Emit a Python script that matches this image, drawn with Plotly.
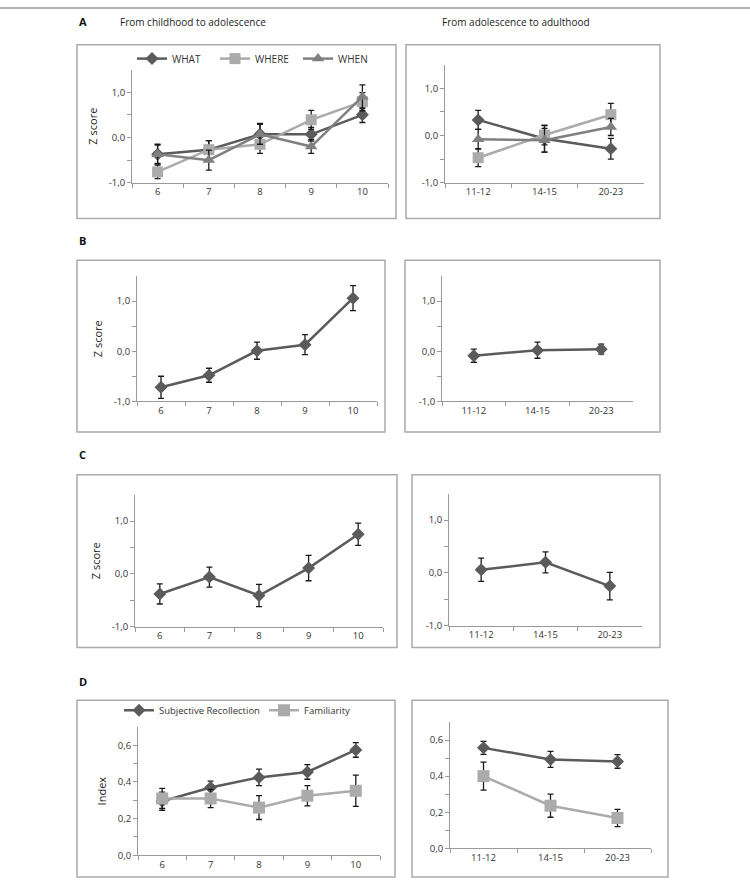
import plotly.graph_objects as go

# ---------------- data ----------------
child_ages = ["6", "7", "8", "9", "10"]
adult_ages = ["11-12", "14-15", "20-23"]

# Panel A (Z scores)
a_what_child = [-0.37, -0.27, 0.07, 0.07, 0.50]
a_what_child_err = [0.20, 0.20, 0.24, 0.15, 0.17]
a_where_child = [-0.76, -0.27, -0.15, 0.39, 0.79]
a_where_child_err = [0.15, 0.20, 0.20, 0.21, 0.20]
a_when_child = [-0.37, -0.50, 0.07, -0.20, 0.90]
a_when_child_err = [0.22, 0.22, 0.22, 0.15, 0.26]

a_what_adult = [0.33, -0.07, -0.28]
a_what_adult_err = [0.20, 0.28, 0.22]
a_where_adult = [-0.47, 0.01, 0.44]
a_where_adult_err = [0.19, 0.21, 0.24]
a_when_adult = [-0.08, -0.10, 0.18]
a_when_adult_err = [0.21, 0.25, 0.18]

# Panel B
b_child = [-0.72, -0.48, 0.01, 0.13, 1.06]
b_child_err = [0.22, 0.14, 0.17, 0.20, 0.25]
b_adult = [-0.09, 0.02, 0.04]
b_adult_err = [0.13, 0.16, 0.10]

# Panel C
c_child = [-0.38, -0.06, -0.41, 0.11, 0.75]
c_child_err = [0.19, 0.19, 0.21, 0.24, 0.21]
c_adult = [0.06, 0.20, -0.25]
c_adult_err = [0.22, 0.20, 0.26]

# Panel D (index)
d_rec_child = [0.295, 0.37, 0.425, 0.455, 0.575]
d_rec_child_err = [0.05, 0.035, 0.045, 0.04, 0.04]
d_fam_child = [0.31, 0.31, 0.26, 0.325, 0.352]
d_fam_child_err = [0.055, 0.05, 0.065, 0.055, 0.085]
d_rec_adult = [0.557, 0.493, 0.482]
d_rec_adult_err = [0.036, 0.044, 0.038]
d_fam_adult = [0.40, 0.236, 0.168]
d_fam_adult_err = [0.078, 0.064, 0.048]

z_tickvals = [-1, -0.5, 0, 0.5, 1]
z_ticktext = ["-1,0", "", "0,0", "", "1,0"]
i_tickvals = [0, 0.1, 0.2, 0.3, 0.4, 0.5, 0.6]
i_ticktext = ["0,0", "", "0,2", "", "0,4", "", "0,6"]

# ---------------- style ----------------
W, H = 750, 890
FONT = "Open Sans"
DARK = "#5b5b5b"
MID = "#808080"
LIGHT = "#ababab"
AXC = "#9a9a9a"
ERRC = "#1a1a1a"


def px_x(x):
    return x / W


def px_y(y):
    return 1 - y / H


fig = go.Figure()

subplots = {
    1: dict(x=(132, 388), y=(184, 70), rng=[-1, 1.5], z=True, title="Z score"),
    2: dict(x=(445, 644), y=(184, 65), rng=[-1, 1.5], z=True, title=None),
    3: dict(x=(137, 377), y=(404, 278), rng=[-1, 1.5], z=True, title="Z score"),
    4: dict(x=(442, 633), y=(404, 278), rng=[-1, 1.5], z=True, title=None),
    5: dict(x=(135, 383), y=(631, 498), rng=[-1, 1.5], z=True, title="Z score"),
    6: dict(x=(449, 642), y=(630, 497), rng=[-1, 1.5], z=True, title=None),
    7: dict(x=(138, 380), y=(861, 732), rng=[0, 0.7], z=False, title="Index"),
    8: dict(x=(450, 651), y=(854, 727), rng=[0, 0.7], z=False, title=None),
}

for i, s in subplots.items():
    xa = "xaxis" if i == 1 else f"xaxis{i}"
    ya = "yaxis" if i == 1 else f"yaxis{i}"
    cats = child_ages if i % 2 == 1 else adult_ages
    fig.layout[xa] = dict(
        domain=[px_x(s["x"][0]), px_x(s["x"][1])],
        anchor=f"y{i}" if i > 1 else "y",
        type="category",
        categoryorder="array",
        categoryarray=cats,
        range=[-0.5, len(cats) - 0.5],
        tickson="boundaries",
        ticks="outside",
        ticklen=4,
        tickcolor=AXC,
        showline=True,
        linecolor=AXC,
        linewidth=1,
        showgrid=False,
        zeroline=False,
        tickfont=dict(family=FONT, size=9.5, color="#333"),
        fixedrange=True,
    )
    yd = dict(
        domain=[px_y(s["y"][0]), px_y(s["y"][1])],
        anchor=f"x{i}" if i > 1 else "x",
        range=s["rng"],
        tickvals=z_tickvals if s["z"] else i_tickvals,
        ticktext=z_ticktext if s["z"] else i_ticktext,
        ticks="outside",
        ticklen=4,
        tickcolor=AXC,
        showline=True,
        linecolor=AXC,
        linewidth=1,
        showgrid=False,
        zeroline=False,
        tickfont=dict(family=FONT, size=9.5, color="#333"),
        fixedrange=True,
    )
    if s["title"]:
        yd["title"] = dict(text=s["title"], font=dict(family=FONT, size=11, color="#222"), standoff=8)
    fig.layout[ya] = yd


def add_series(i, cats, vals, errs, color, symbol, msize, name=None, legend=None):
    fig.add_trace(go.Scatter(
        x=cats, y=vals,
        xaxis="x" if i == 1 else f"x{i}",
        yaxis="y" if i == 1 else f"y{i}",
        mode="lines+markers",
        line=dict(color=color, width=2.5),
        marker=dict(color=color, symbol=symbol, size=msize),
        error_y=dict(type="data", array=errs, visible=True, color=ERRC, thickness=1.3, width=3),
        name=name if name else "",
        showlegend=legend is not None,
        legend=legend if legend else "legend",
        cliponaxis=False,
    ))


# Panel A
add_series(1, child_ages, a_what_child, a_what_child_err, DARK, "diamond", 10, "WHAT", "legend")
add_series(1, child_ages, a_where_child, a_where_child_err, LIGHT, "square", 11, "WHERE", "legend")
add_series(1, child_ages, a_when_child, a_when_child_err, MID, "triangle-up", 11, "WHEN", "legend")
add_series(2, adult_ages, a_what_adult, a_what_adult_err, DARK, "diamond", 10)
add_series(2, adult_ages, a_where_adult, a_where_adult_err, LIGHT, "square", 11)
add_series(2, adult_ages, a_when_adult, a_when_adult_err, MID, "triangle-up", 11)

# Panel B
add_series(3, child_ages, b_child, b_child_err, DARK, "diamond", 10)
add_series(4, adult_ages, b_adult, b_adult_err, DARK, "diamond", 10)

# Panel C
add_series(5, child_ages, c_child, c_child_err, DARK, "diamond", 10)
add_series(6, adult_ages, c_adult, c_adult_err, DARK, "diamond", 10)

# Panel D
add_series(7, child_ages, d_rec_child, d_rec_child_err, DARK, "diamond", 10, "Subjective Recollection", "legend2")
add_series(7, child_ages, d_fam_child, d_fam_child_err, LIGHT, "square", 12, "Familiarity", "legend2")
add_series(8, adult_ages, d_rec_adult, d_rec_adult_err, DARK, "diamond", 10)
add_series(8, adult_ages, d_fam_adult, d_fam_adult_err, LIGHT, "square", 12)

boxes = [
    (77, 45, 396, 220), (406, 45, 660, 220),
    (77, 262, 385, 435), (405, 262, 660, 435),
    (77, 478, 397, 652), (412, 478, 660, 652),
    (77, 705, 395, 883), (412, 705, 668, 883),
]
shapes = []
for x0, y0, x1, y1 in boxes:
    shapes.append(dict(type="rect", xref="paper", yref="paper",
                       x0=px_x(x0), x1=px_x(x1), y0=px_y(y1), y1=px_y(y0),
                       line=dict(color="#aaaaaa", width=1.5), layer="below"))
shapes.append(dict(type="line", xref="paper", yref="paper",
                   x0=0, x1=1, y0=px_y(8), y1=px_y(8),
                   line=dict(color="#999999", width=1.5)))

annotations = []
for lab, yy in [("A", 22), ("B", 242), ("C", 458), ("D", 686)]:
    annotations.append(dict(text=f"<b>{lab}</b>", x=px_x(77), y=px_y(yy), xref="paper", yref="paper",
                            xanchor="left", yanchor="middle", showarrow=False,
                            font=dict(family=FONT, size=11, color="#111")))
annotations.append(dict(text="From childhood to adolescence", x=px_x(118), y=px_y(22), xref="paper", yref="paper",
                        xanchor="left", yanchor="middle", showarrow=False,
                        font=dict(family=FONT, size=10, color="#222")))
annotations.append(dict(text="From adolescence to adulthood", x=px_x(440), y=px_y(22), xref="paper", yref="paper",
                        xanchor="left", yanchor="middle", showarrow=False,
                        font=dict(family=FONT, size=10, color="#222")))

fig.update_layout(
    width=W, height=H,
    margin=dict(l=0, r=0, t=0, b=0),
    paper_bgcolor="white", plot_bgcolor="white",
    shapes=shapes,
    annotations=annotations,
    legend=dict(orientation="h", x=px_x(132), y=px_y(59), xanchor="left", yanchor="middle",
                itemwidth=30, entrywidth=38, entrywidthmode="pixels",
                font=dict(family=FONT, size=10, color="#333"),
                bgcolor="rgba(0,0,0,0)"),
    legend2=dict(orientation="h", x=px_x(119), y=px_y(715), xanchor="left", yanchor="middle",
                 itemwidth=30, entrywidth=100, entrywidthmode="pixels",
                 font=dict(family=FONT, size=9.5, color="#333"),
                 bgcolor="rgba(0,0,0,0)"),
    showlegend=True,
)

fig.write_html("out.html")
